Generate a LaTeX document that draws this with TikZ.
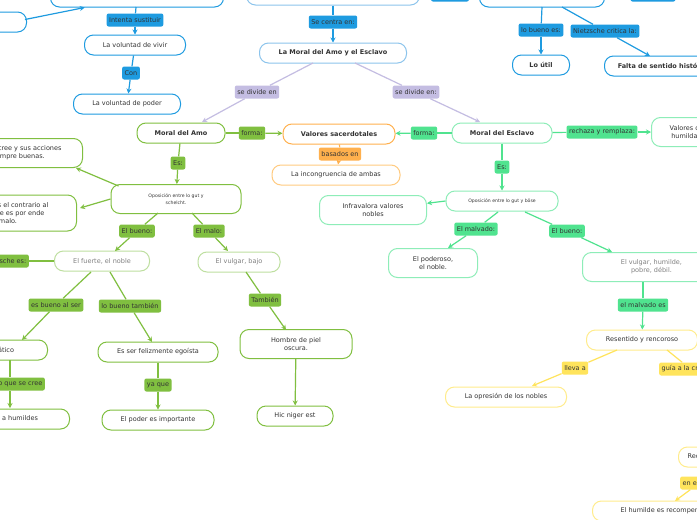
\documentclass[tikz,border=0pt]{standalone}
\usepackage{fontspec}
\setmainfont{DejaVu Sans}
\usetikzlibrary{arrows.meta}
\definecolor{blu}{HTML}{1E9BE0}
\definecolor{bluline}{HTML}{8CC4EC}
\definecolor{lil}{HTML}{C4BDE2}
\definecolor{grn}{HTML}{80BF40}
\definecolor{grnline}{HTML}{BEDFA0}
\definecolor{mint}{HTML}{50E38F}
\definecolor{mintline}{HTML}{8EEDB8}
\definecolor{ora}{HTML}{FFB04D}
\definecolor{oraline}{HTML}{FFCB80}
\definecolor{yel}{HTML}{FFE45C}
\definecolor{yelline}{HTML}{FFEC8C}
\definecolor{txt}{HTML}{333333}
\begin{document}
\begin{tikzpicture}[x=1pt,y=-1pt,
    font=\fontsize{6.5}{8}\selectfont, text=txt,
    box/.style={draw, line width=1pt, rounded corners=9pt, fill=white, minimum height=20pt, align=center, inner sep=2pt},
    big/.style={box, minimum height=29pt},
    lbl/.style={fill=#1, rounded corners=2pt, inner sep=2.5pt, minimum height=13pt},
    tip/.style={-{Stealth[length=5pt,width=5pt]}},
    ln/.style={line width=1.2pt, draw=#1},
    tiny/.style={font=\fontsize{4.6}{7}\selectfont}]
    \clip (0,0) rectangle (697,520);
    \fill[white] (0,0) rectangle (697,520);

    % top (blue) part
    \node[box, draw=blu, minimum width=173pt] (volun) at (137,-3) {del concepto de voluntad};
    \node[box, draw=blu, minimum width=87pt, anchor=east] (irrac) at (27,22) {Irracional};
    \node[box, draw=bluline, minimum width=173pt] (nietz) at (333,-5) {};
    \node[box, draw=blu, minimum width=125pt] (genea) at (542,-3) {};
    \node[lbl=blu, minimum width=38pt] (lt1) at (450,-5) {};
    \node[lbl=blu, minimum width=45pt] (lt2) at (653,-5) {};
    \coordinate (up) at (18,-6);
    \node[box, draw=blu, minimum width=101pt] (vivir) at (135,45) {La voluntad de vivir};
    \node[box, draw=blu, minimum width=107pt] (poder) at (127,104) {La voluntad de poder};
    \node[box, draw=bluline, minimum width=147pt, font=\fontsize{6.5}{8}\selectfont\bfseries] (amoesc) at (333,53) {La Moral del Amo y el Esclavo};
    \node[box, draw=blu, minimum width=57pt, font=\fontsize{6.5}{8}\selectfont\bfseries] (util) at (541,65) {Lo útil};
    \node[box, draw=blu, minimum width=120pt, anchor=west, font=\fontsize{6.5}{8}\selectfont\bfseries] (falta) at (604,66) {Falta de sentido histórico};

    \node[lbl=blu] (l1) at (135,20) {Intenta sustituir};
    \node[lbl=blu] (l2) at (131,73) {Con};
    \node[lbl=blu] (l3) at (333,22) {Se centra en:};
    \node[lbl=blu] (l4) at (541,30) {lo bueno es:};
    \node[lbl=blu] (l5) at (605,31) {Nietzsche critica la:};

    \draw[ln=blu] (irrac.west |- 0,14) -- (up);
    \draw[ln=blu, tip] (irrac.north east) ++(-2,8) -- (volun);
    \draw[ln=blu] (136,7) -- (l1);
    \draw[ln=blu, tip] (l1) -- (vivir);
    \draw[ln=blu] (vivir) -- (l2);
    \draw[ln=blu, tip] (l2) -- (poder);
    \draw[ln=blu] (nietz) -- (l3);
    \draw[ln=blu, tip] (l3) -- (amoesc);
    \draw[ln=blu] (542,7) -- (l4);
    \draw[ln=blu, tip] (l4) -- (util);
    \draw[ln=blu] (562,7) -- (l5);
    \draw[ln=blu, tip] (l5) -- (650,56);

    % Moral del Amo
    \node[box, draw=grn, minimum width=88pt, font=\fontsize{6.5}{8}\selectfont\bfseries] (amo) at (181,133) {Moral del Amo};
    \node[big, draw=grn, minimum width=130pt, tiny] (opamo) at (176,199) {Oposición entre lo gut y\\schelcht.};
    \node[big, draw=grn, minimum width=143pt, anchor=east] (acc) at (83,153) {El noble se cree y sus acciones\\son siempre buenas.};
    \node[big, draw=grn, minimum width=137pt, anchor=east, minimum height=36pt] (contr) at (77,213) {El malo es el contrario al\\noble que es por ende\\malo.};
    \node[box, draw=grnline, minimum width=95pt, text=gray] (fuerte) at (102,261) {El fuerte, el noble};
    \node[box, draw=grnline, minimum width=82pt, text=gray] (vulgar) at (239,262) {El vulgar, bajo};
    \node[box, draw=grn, minimum width=108pt, anchor=east] (arist) at (48,350) {Aristocrático};
    \node[box, draw=grn, minimum width=130pt, anchor=east] (opres) at (70,419) {Opresión a humildes};
    \node[box, draw=grn, minimum width=120pt] (egoi) at (158,352) {Es ser felizmente egoísta};
    \node[box, draw=grn, minimum width=112pt] (pimp) at (158,420) {El poder es importante};
    \node[big, draw=grn, minimum width=112pt] (piel) at (296,344) {Hombre de piel\\oscura.};
    \node[box, draw=grn, minimum width=76pt] (hic) at (295,416) {Hic niger est};

    \node[lbl=lil] (l6) at (257,92) {se divide en};
    \node[lbl=grn] (l7) at (252,133) {forma:};
    \node[lbl=grn] (l8) at (178,163) {Es:};
    \node[lbl=grn] (l9) at (137,231) {El bueno:};
    \node[lbl=grn] (l10) at (209,231) {El malo:};
    \node[lbl=grn, anchor=east] (l11) at (29,261) {Nietzsche es:};
    \node[lbl=grn] (l12) at (56,305) {es bueno al ser};
    \node[lbl=grn] (l13) at (130,306) {lo bueno también};
    \node[lbl=grn, anchor=east] (l14) at (45,384) {por lo que se cree};
    \node[lbl=grn] (l15) at (158,385) {ya que};
    \node[lbl=grn] (l16) at (265,300) {También};

    \draw[ln=lil] (313,63) -- (l6);
    \draw[ln=lil, tip] (l6) -- (202,122);
    \draw[ln=grn] (amo) -- (l7);
    \draw[ln=grn] (amo) -- (l8);
    \draw[ln=grn, tip] (l8) -- (opamo);
    \draw[ln=grn, tip] (opamo.north west) ++(8,2) -- (76,168);
    \draw[ln=grn, tip] (opamo.west) -- (80,208);
    \draw[ln=grn] (158,213) -- (l9);
    \draw[ln=grn, tip] (l9) -- (115,251);
    \draw[ln=grn] (192,213) -- (l10);
    \draw[ln=grn, tip] (l10) -- (228,251);
    \draw[ln=grn] (fuerte) -- (l11);
    \draw[ln=grn] (91,272) -- (l12);
    \draw[ln=grn, tip] (l12) -- (22,340);
    \draw[ln=grn] (110,272) -- (l13);
    \draw[ln=grn, tip] (l13) -- (152,342);
    \draw[ln=grn] (10,360) -- (10,377);
    \draw[ln=grn, tip] (10,391) -- (10,408);
    \draw[ln=grn] (egoi) -- (l15);
    \draw[ln=grn, tip] (l15) -- (pimp);
    \draw[ln=grn] (246,272) -- (l16);
    \draw[ln=grn, tip] (l16) -- (286,330);
    \draw[ln=grn, tip] (piel) -- (hic);

    % Valores sacerdotales
    \node[box, draw=ora, minimum width=112pt, font=\fontsize{6.5}{8}\selectfont\bfseries] (sacer) at (339,134) {Valores sacerdotales};
    \node[box, draw=oraline, minimum width=128pt] (incon) at (336,175) {La incongruencia de ambas};
    \node[lbl=ora] (l17) at (340,154) {basados en};
    \draw[ln=grn, tip] (l7) -- (sacer);
    \draw[ln=ora] (sacer) -- (l17);
    \draw[ln=ora, tip] (l17) -- (incon);

    % Moral del Esclavo
    \node[box, draw=mintline, minimum width=100pt, font=\fontsize{6.5}{8}\selectfont\bfseries] (escl) at (502,133) {Moral del Esclavo};
    \node[big, draw=mintline, minimum width=70pt, anchor=west] (humil) at (651,132) {Valores de\\humildad};
    \node[box, draw=mintline, minimum width=112pt, tiny] (opesc) at (502,201) {Oposición entre lo gut y böse};
    \node[big, draw=mintline, minimum width=107pt] (infra) at (373,210) {Infravalora valores\\nobles};
    \node[big, draw=mintline, minimum width=89pt] (podr) at (433,263) {El poderoso,\\el noble.};
    \node[big, draw=mintline, minimum width=138pt, anchor=west, text=gray] (vulg) at (582,267) {El vulgar, humilde,\\pobre, débil.};
    \node[lbl=lil] (l18) at (416,92) {se divide en:};
    \node[lbl=mint] (l19) at (424,133) {forma:};
    \node[lbl=mint] (l20) at (602,132) {rechaza y remplaza:};
    \node[lbl=mint] (l21) at (502,167) {Es:};
    \node[lbl=mint] (l22) at (476,229) {El malvado:};
    \node[lbl=mint] (l23) at (567,231) {El bueno:};
    \node[lbl=mint] (l24) at (643,305) {el malvado es};

    \draw[ln=lil] (355,63) -- (l18);
    \draw[ln=lil, tip] (l18) -- (480,122);
    \draw[ln=mint] (escl) -- (l19);
    \draw[ln=mint, tip] (l19) -- (sacer);
    \draw[ln=mint] (escl) -- (l20);
    \draw[ln=mint, tip] (l20) -- (humil);
    \draw[ln=mint] (escl) -- (l21);
    \draw[ln=mint, tip] (l21) -- (opesc);
    \draw[ln=mint, tip] (opesc.west) -- (infra);
    \draw[ln=mint] (498,212) -- (l22);
    \draw[ln=mint, tip] (l22) -- (448,248);
    \draw[ln=mint] (525,212) -- (l23);
    \draw[ln=mint, tip] (l23) -- (612,252);
    \draw[ln=mint] (643,282) -- (l24);

    % Resentido (yellow)
    \node[box, draw=yelline, minimum width=111pt] (resen) at (642,340) {Resentido y rencoroso};
    \node[box, draw=yelline, minimum width=121pt] (opnob) at (506,397) {La opresión de los nobles};
    \node[box, draw=yelline, minimum width=60pt, anchor=west] (rbox) at (678,457) {Recompensa};
    \node[box, draw=yelline, minimum width=150pt, anchor=west] (recom) at (592,511) {El humilde es recompensado};
    \node[lbl=yel] (l25) at (575,368) {lleva a};
    \node[lbl=yel, anchor=west] (l26) at (659,369) {guía a la creencia};
    \node[lbl=yel, anchor=west] (l27) at (680,483) {en el cielo};

    \draw[ln=mint, tip] (l24) -- (resen);
    \draw[ln=yel] (617,350) -- (l25);
    \draw[ln=yel, tip] (l25) -- (532,386);
    \draw[ln=yel] (667,350) -- (l26);
    \draw[ln=yel] (rbox) -- (l27);
    \draw[ln=yel, tip] (l27) -- (675,501);
\end{tikzpicture}
\end{document}
